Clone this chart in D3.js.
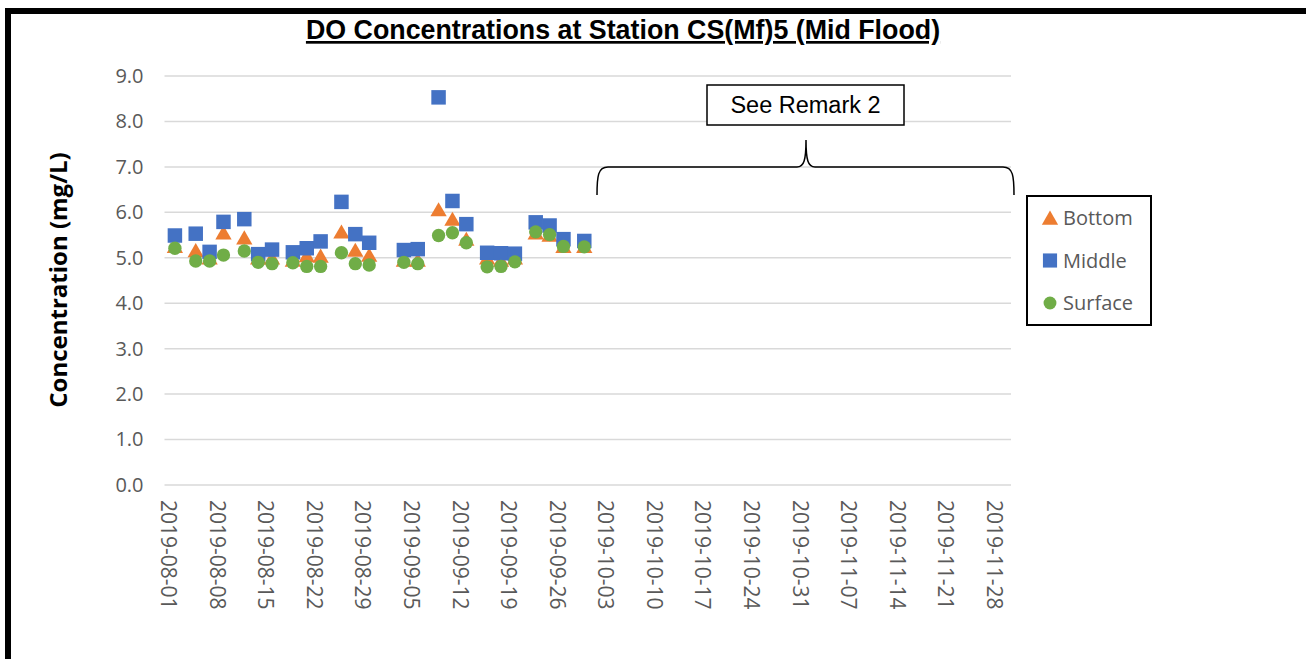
<!DOCTYPE html>
<html>
<head>
<meta charset="utf-8">
<script src="https://cdn.jsdelivr.net/npm/d3@7"></script>
<style>
  body { margin: 0; background: #fff; }
  svg { display: block; }
</style>
</head>
<body>
<div id="chart"></div>
<script>
// sampling dates (mid flood)
const dates = ['2019-08-02', '2019-08-05', '2019-08-07', '2019-08-09', '2019-08-12', '2019-08-14', '2019-08-16',
  '2019-08-19', '2019-08-21', '2019-08-23', '2019-08-26', '2019-08-28', '2019-08-30', '2019-09-04', '2019-09-06',
  '2019-09-09', '2019-09-11', '2019-09-13', '2019-09-16', '2019-09-18', '2019-09-20', '2019-09-23', '2019-09-25',
  '2019-09-27', '2019-09-30'];

const bottom = [5.25, 5.16, 5.0, 5.55, 5.44, 5.0, 5.0, 4.95, 5.05, 5.04, 5.57, 5.17, 5.06, 4.95, 4.95,
  6.06, 5.85, 5.41, 5.0, 4.95, 5.0, 5.55, 5.5, 5.25, 5.25];
const middle = [5.49, 5.53, 5.13, 5.79, 5.85, 5.08, 5.18, 5.12, 5.21, 5.36, 6.23, 5.52, 5.33, 5.17, 5.19,
  8.53, 6.25, 5.74, 5.11, 5.10, 5.09, 5.78, 5.71, 5.41, 5.37];
const surface = [5.21, 4.93, 4.93, 5.06, 5.15, 4.90, 4.87, 4.89, 4.81, 4.81, 5.11, 4.87, 4.84, 4.90, 4.87,
  5.49, 5.55, 5.33, 4.80, 4.81, 4.91, 5.57, 5.51, 5.25, 5.24];

const yTicks = [0, 1, 2, 3, 4, 5, 6, 7, 8, 9];
const xTickLabels = ['2019-08-01', '2019-08-08', '2019-08-15', '2019-08-22', '2019-08-29', '2019-09-05',
  '2019-09-12', '2019-09-19', '2019-09-26', '2019-10-03', '2019-10-10', '2019-10-17', '2019-10-24',
  '2019-10-31', '2019-11-07', '2019-11-14', '2019-11-21', '2019-11-28'];

const series = [
  { name: 'Bottom', values: bottom, color: '#ED7D31', shape: 'triangle' },
  { name: 'Middle', values: middle, color: '#4472C4', shape: 'square' },
  { name: 'Surface', values: surface, color: '#70AD47', shape: 'circle' }
];

const W = 1306, H = 659;
const plot = { left: 164.5, right: 1011, top: 76, bottom: 485 };
const parse = d3.utcParse('%Y-%m-%d');
const halfDay = 12 * 3600 * 1000;

const svg = d3.select('#chart').append('svg').attr('width', W).attr('height', H);

// frame (only top and left edges visible)
svg.append('rect').attr('x', 5).attr('y', 8).attr('width', W - 5).attr('height', 6).attr('fill', '#000');
svg.append('rect').attr('x', 5).attr('y', 8).attr('width', 6).attr('height', H - 8).attr('fill', '#000');

const x = d3.scaleUtc()
  .domain([parse('2019-08-01'), parse('2019-12-01')])
  .range([plot.left, plot.right]);
const y = d3.scaleLinear().domain([0, 9]).range([plot.bottom, plot.top]);
const xPos = s => x(new Date(parse(s).getTime() + halfDay));

// gridlines
svg.append('g')
  .selectAll('line')
  .data(yTicks)
  .join('line')
  .attr('x1', plot.left).attr('x2', plot.right)
  .attr('y1', d => y(d)).attr('y2', d => y(d))
  .attr('stroke', '#d9d9d9')
  .attr('stroke-width', 1.5);

// y axis labels
const yAxis = svg.append('g')
  .attr('transform', `translate(${plot.left - 21},0)`)
  .call(d3.axisLeft(y).tickValues(yTicks).tickFormat(d3.format('.1f')).tickSize(0).tickPadding(0));
yAxis.select('.domain').remove();
yAxis.selectAll('text')
  .attr('fill', '#595959')
  .style('font-family', '"Open Sans", sans-serif')
  .style('font-size', '20px');

// x axis labels, rotated
const xAxis = svg.append('g')
  .attr('transform', `translate(0,${plot.bottom})`)
  .call(d3.axisBottom(x)
    .tickValues(xTickLabels.map(s => new Date(parse(s).getTime() + halfDay)))
    .tickFormat(d3.utcFormat('%Y-%m-%d'))
    .tickSize(0));
xAxis.select('.domain').remove();
xAxis.selectAll('text')
  .attr('fill', '#595959')
  .style('font-family', '"Open Sans", sans-serif')
  .style('font-size', '21px')
  .attr('text-anchor', 'start')
  .attr('dy', '0.35em')
  .attr('y', 0)
  .attr('x', 0)
  .attr('transform', 'translate(0,15) rotate(90)');

// markers
const sym = {
  triangle: d3.symbol().type(d3.symbolTriangle).size(115),
  square: d3.symbol().type(d3.symbolSquare).size(210),
  circle: d3.symbol().type(d3.symbolCircle).size(140)
};

series.forEach(s => {
  svg.append('g')
    .selectAll('path')
    .data(s.values.map((v, i) => ({ date: dates[i], v })))
    .join('path')
    .attr('d', sym[s.shape]())
    .attr('transform', d => `translate(${xPos(d.date)},${y(d.v) + (s.shape === 'triangle' ? 2 : 0)})`)
    .attr('fill', s.color);
});

// title
svg.append('text')
  .attr('x', 623).attr('y', 39)
  .attr('text-anchor', 'middle')
  .style('font-family', '"Liberation Sans", Arial, sans-serif')
  .style('font-weight', 'bold')
  .style('font-size', '26.8px')
  .style('text-decoration', 'underline')
  .text('DO Concentrations at Station CS(Mf)5 (Mid Flood)');

// y axis title
svg.append('text')
  .attr('transform', 'translate(67,280) rotate(-90)')
  .attr('text-anchor', 'middle')
  .style('font-family', '"Open Sans", sans-serif')
  .style('font-weight', 'bold')
  .style('font-size', '24px')
  .text('Concentration (mg/L)');

// remark box and brace
svg.append('rect')
  .attr('x', 707).attr('y', 85).attr('width', 197).attr('height', 40)
  .attr('fill', '#fff').attr('stroke', '#000').attr('stroke-width', 1.5);
svg.append('text')
  .attr('x', 805.5).attr('y', 113)
  .attr('text-anchor', 'middle')
  .style('font-family', '"Liberation Sans", Arial, sans-serif')
  .style('font-size', '23.5px')
  .text('See Remark 2');
svg.append('path')
  .attr('d', 'M597,195 C597,176 598,167 608,167 L797,167 C804,167 806,160 806,140 C806,160 808,167 815,167 L1003,167 C1013,167 1014,176 1014,195')
  .attr('fill', 'none').attr('stroke', '#000').attr('stroke-width', 1.5);

// legend
const legend = svg.append('g');
legend.append('rect')
  .attr('x', 1027).attr('y', 196).attr('width', 124).attr('height', 129)
  .attr('fill', '#fff').attr('stroke', '#000').attr('stroke-width', 2);
const legendItems = legend.selectAll('g.item')
  .data(series)
  .join('g')
  .attr('class', 'item')
  .attr('transform', (d, i) => `translate(1050,${218 + i * 42.5})`);
legendItems.append('path')
  .attr('d', d => d3.symbol().type(d.shape === 'triangle' ? d3.symbolTriangle : d.shape === 'square' ? d3.symbolSquare : d3.symbolCircle)
    .size(d.shape === 'square' ? 200 : d.shape === 'triangle' ? 115 : 130)())
  .attr('transform', d => d.shape === 'triangle' ? 'translate(0,2)' : null)
  .attr('fill', d => d.color);
legendItems.append('text')
  .attr('x', 13).attr('dy', '0.35em')
  .attr('fill', '#595959')
  .style('font-family', '"Open Sans", sans-serif')
  .style('font-size', '20px')
  .text(d => d.name);
</script>
</body>
</html>
